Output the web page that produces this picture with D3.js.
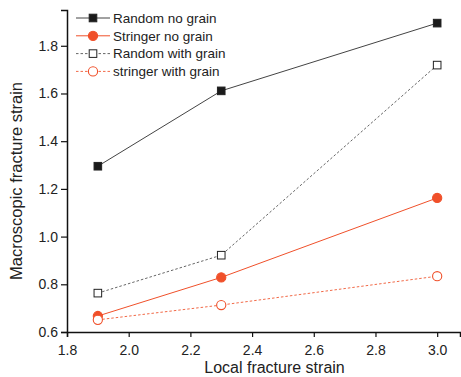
<!DOCTYPE html>
<html>
<head>
<meta charset="utf-8">
<script src="https://cdn.jsdelivr.net/npm/d3@7"></script>
<style>
  body { margin: 0; background: #fff; }
  text { font-family: "Liberation Sans", Arial, sans-serif; fill: #222; }
</style>
</head>
<body>
<svg id="chart"></svg>
<script>
// x values (local fracture strain)
const LOCAL = [1.9, 2.3, 3.0];
// y values (macroscopic fracture strain) per series
const RANDOM_NO_GRAIN = [1.295, 1.611, 1.895];
const STRINGER_NO_GRAIN = [0.667, 0.829, 1.162];
const RANDOM_WITH_GRAIN = [0.763, 0.922, 1.719];
const STRINGER_WITH_GRAIN = [0.651, 0.713, 0.834];
const SERIES_NAMES = ["Random no grain", "Stringer no grain", "Random with grain", "stringer with grain"];
const X_TICKS = [1.8, 2.0, 2.2, 2.4, 2.6, 2.8, 3.0];
const Y_TICKS = [0.6, 0.8, 1.0, 1.2, 1.4, 1.6, 1.8];

var width = 461, height = 377;
var margin = {top: 10, right: 1, bottom: 45, left: 67};
var orange = "#f0502a";

var series = [
  {name: SERIES_NAMES[0], values: RANDOM_NO_GRAIN, color: "#444", mark: "square", fill: "#1a1a1a", dash: null},
  {name: SERIES_NAMES[1], values: STRINGER_NO_GRAIN, color: orange, mark: "circle", fill: orange, dash: null},
  {name: SERIES_NAMES[2], values: RANDOM_WITH_GRAIN, color: "#666", mark: "square", fill: "#fff", dash: "2.5,2"},
  {name: SERIES_NAMES[3], values: STRINGER_WITH_GRAIN, color: "#f26a48", mark: "circle", fill: "#fff", dash: "2.5,2"}
];

var svg = d3.select("#chart").attr("width", width).attr("height", height);
var g = svg.append("g").attr("transform", "translate(" + margin.left + "," + margin.top + ")");
var w = width - margin.left - margin.right;
var h = height - margin.top - margin.bottom;

var x = d3.scaleLinear().domain([1.8, 3.074]).range([0, w]);
var y = d3.scaleLinear().domain([0.6, 1.95]).range([h, 0]);

/********* axes ***********/
function minorTicks(lo, hi) {
  var out = [];
  for (var v = lo; v < hi + 1e-9; v += 0.2) out.push(+(v + 0.1).toFixed(2));
  return out;
}

var xAxis = g.append("g").attr("transform", "translate(0," + h + ")");
xAxis.call(d3.axisBottom(x).tickValues(minorTicks(1.8, 2.8)).tickSize(3).tickFormat(""));
xAxis.call(d3.axisBottom(x).tickValues(X_TICKS).tickSize(5).tickFormat(d3.format(".1f")));
xAxis.selectAll(".domain").attr("stroke", "#111").attr("stroke-width", 1.5);
xAxis.selectAll(".tick line").attr("stroke", "#111").attr("stroke-width", 1.2);
xAxis.selectAll(".tick text").attr("dy", "1.05em").style("font-size", "14px");

var yAxis = g.append("g");
yAxis.call(d3.axisLeft(y).tickValues(minorTicks(0.6, 1.8)).tickSize(3).tickFormat(""));
yAxis.call(d3.axisLeft(y).tickValues(Y_TICKS).tickSize(6).tickFormat(d3.format(".1f")));
yAxis.selectAll(".domain").attr("stroke", "#111").attr("stroke-width", 1.5);
yAxis.selectAll(".tick line").attr("stroke", "#111").attr("stroke-width", 1.2);
yAxis.selectAll(".tick text").attr("x", -9).style("font-size", "14px");

g.append("text")
  .attr("x", w / 2 + 11)
  .attr("y", h + 41)
  .attr("text-anchor", "middle")
  .style("font-size", "16px")
  .text("Local fracture strain");

g.append("text")
  .attr("transform", "translate(" + (-45) + "," + (h / 2 + 10) + ") rotate(-90)")
  .attr("text-anchor", "middle")
  .style("font-size", "16.5px")
  .text("Macroscopic fracture strain");

/********* data ***********/
var line = d3.line().x(d => x(d[0])).y(d => y(d[1]));

function drawMarker(sel, s, cx, cy) {
  if (s.mark === "square") {
    sel.append("rect")
      .attr("x", cx - 3.8).attr("y", cy - 3.8)
      .attr("width", 7.6).attr("height", 7.6)
      .attr("fill", s.fill).attr("stroke", "#222").attr("stroke-width", 1);
  } else {
    sel.append("circle")
      .attr("cx", cx).attr("cy", cy).attr("r", 4.6)
      .attr("fill", s.fill).attr("stroke", orange).attr("stroke-width", 1.1);
  }
}

series.forEach(function(s) {
  var pts = LOCAL.map((v, i) => [v, s.values[i]]);
  g.append("path")
    .datum(pts)
    .attr("d", line)
    .attr("fill", "none")
    .attr("stroke", s.color)
    .attr("stroke-width", 1)
    .attr("stroke-dasharray", s.dash);
  var mg = g.append("g");
  pts.forEach(p => drawMarker(mg, s, x(p[0]), y(p[1])));
});

/********* legend ***********/
var legend = g.append("g").attr("transform", "translate(9,8)");
series.forEach(function(s, i) {
  var row = legend.append("g").attr("transform", "translate(0," + (i * 17.8) + ")");
  row.append("line")
    .attr("x1", 0).attr("x2", 34).attr("y1", 0).attr("y2", 0)
    .attr("stroke", s.color).attr("stroke-width", 1)
    .attr("stroke-dasharray", s.dash);
  drawMarker(row, s, 17, 0);
  row.append("text")
    .attr("x", 37).attr("y", 0).attr("dy", "0.35em")
    .style("font-size", "13.5px")
    .text(s.name);
});
</script>
</body>
</html>
